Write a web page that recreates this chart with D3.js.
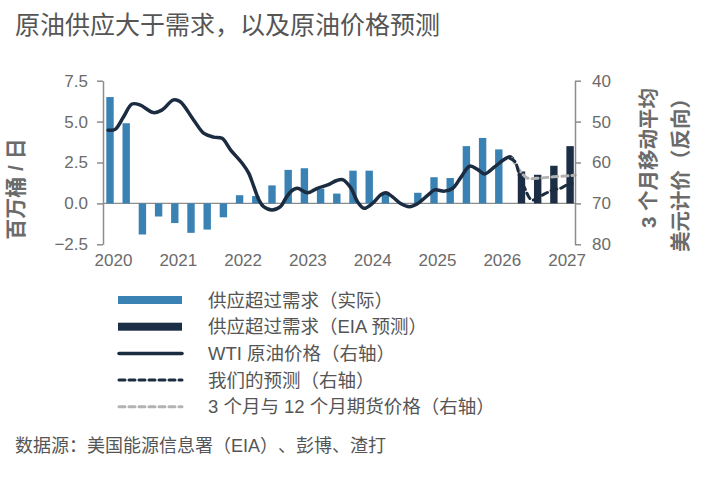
<!DOCTYPE html>
<html>
<head>
<meta charset="utf-8">
<script src="https://cdn.jsdelivr.net/npm/d3@7"></script>
<style>
  body { margin: 0; background: #fff; }
  svg text { font-family: "Liberation Sans", Arial, "Noto Sans CJK SC", sans-serif; text-spacing-trim: space-all; }
</style>
</head>
<body>
<svg id="chart" width="708" height="490"></svg>
<script>
//Quarterly supply minus demand, actual (mb/d)
const actualTimes = d3.range(25).map((i) => 2020 + i * 0.25);
const actualValues = [6.5, 4.9, -1.9, -0.8, -1.2, -1.8, -1.6, -0.85, 0.5, 0.45, 1.1, 2.05, 2.15, 0.9, 0.6, 2.0, 2.0, 0.65, 0, 0.65, 1.6, 1.55, 3.5, 4.0, 3.3];

//EIA forecast bars
const eiaTimes = [2026.35, 2026.6, 2026.85, 2027.1];
const eiaValues = [1.95, 1.75, 2.3, 3.5];

//WTI 3 month moving average (USD, right axis reversed)
const wtiTimes = [2019.97, 2020.08, 2020.21, 2020.34, 2020.46, 2020.67, 2020.8, 2020.98, 2021.08, 2021.29, 2021.45, 2021.6, 2021.73, 2021.86, 2022.04, 2022.14, 2022.22, 2022.3, 2022.37, 2022.5, 2022.63, 2022.71, 2022.79, 2022.89, 2023.05, 2023.2, 2023.36, 2023.5, 2023.59, 2023.72, 2023.82, 2023.92, 2024.05, 2024.18, 2024.26, 2024.36, 2024.49, 2024.62, 2024.75, 2024.91, 2025.01, 2025.16, 2025.29, 2025.42, 2025.55, 2025.68, 2025.78, 2025.94, 2026.07, 2026.17, 2026.21];
const wtiValues = [52.1, 51.9, 48.8, 45.7, 45.9, 47.8, 47.2, 44.7, 45.1, 49.6, 52.9, 53.8, 54.1, 56.9, 60.2, 62.6, 65.9, 69.2, 70.8, 71.6, 70.8, 68.8, 67.1, 66.3, 67.4, 66.3, 65.5, 64.4, 64.2, 66.3, 69.6, 71.2, 70.0, 67.9, 67.4, 68.4, 70.1, 70.8, 70.0, 67.9, 66.7, 67.0, 66.3, 63.5, 60.9, 61.8, 62.8, 61.0, 59.4, 58.6, 59.0];

//Our forecast (right axis)
const ourTimes = [2026.17, 2026.25, 2026.33, 2026.4, 2026.48, 2026.53, 2026.68, 2026.84, 2026.97, 2027.05, 2027.13];
const ourValues = [59.0, 59.8, 63.9, 66.3, 68.8, 69.2, 67.9, 66.7, 66.2, 65.5, 65.2];

//3 and 12 month futures (right axis)
const futTimes = [2026.2, 2026.33, 2026.44, 2026.64, 2026.84, 2027.1, 2027.18];
const futValues = [59.0, 62.1, 63.8, 63.8, 63.5, 63.2, 63.1];

//Axis ticks
const yearTicks = [2020, 2021, 2022, 2023, 2024, 2025, 2026, 2027];
const leftTicks = [-2.5, 0, 2.5, 5, 7.5];
const rightTicks = [40, 50, 60, 70, 80];

//Texts
const title = "原油供应大于需求，以及原油价格预测";
const leftTitle = "百万桶 / 日";
const rightTitle = ["3 个月移动平均", "美元计价（反向）"];
const legendLabels = ["供应超过需求（实际）", "供应超过需求（EIA 预测）", "WTI 原油价格（右轴）", "我们的预测（右轴）", "3 个月与 12 个月期货价格（右轴）"];
const source = "数据源：美国能源信息署（EIA）、彭博、渣打";

//colours
const colActual = "#3a82b3";
const colEia = "#1c2e45";
const colLine = "#1b2b40";
const colFut = "#b3b3b3";
const axisCol = "#8c8c8c";
const textCol = "#6b6b6b";

var svg = d3.select("#chart");

//scales
const x = d3.scaleLinear().domain([2020, 2027]).range([110, 563.6]);
const yL = d3.scaleLinear().domain([-2.5, 7.5]).range([244.3, 80.7]);
const yR = d3.scaleLinear().domain([80, 40]).range([244.3, 80.7]);
const xLeft = 103, xRight = 575;
const barW = 7.4;

//title
svg.append("text")
  .attr("x", 15).attr("y", 34)
  .attr("font-size", 25).attr("fill", "#555")
  .text(title);

//zero line
svg.append("line")
  .attr("x1", xLeft).attr("x2", xRight)
  .attr("y1", yL(0)).attr("y2", yL(0))
  .attr("stroke", axisCol).attr("stroke-width", 1.3);

//bars
function drawBars(times, values, col) {
  svg.append("g").selectAll("rect")
    .data(values)
    .join("rect")
    .attr("x", (d, i) => x(times[i]) - barW / 2)
    .attr("width", barW)
    .attr("y", (d) => yL(Math.max(0, d)))
    .attr("height", (d) => Math.abs(yL(d) - yL(0)))
    .attr("fill", col);
}
drawBars(actualTimes, actualValues, colActual);
drawBars(eiaTimes, eiaValues, colEia);

//lines on the right axis
var line = d3.line()
  .x((d) => x(d[0]))
  .y((d) => yR(d[1]))
  .curve(d3.curveCatmullRom);

function drawLine(times, values, col, width, dash) {
  svg.append("path")
    .datum(times.map((t, i) => [t, values[i]]))
    .attr("d", line)
    .attr("fill", "none")
    .attr("stroke", col)
    .attr("stroke-width", width)
    .attr("stroke-linecap", "round")
    .attr("stroke-dasharray", dash);
}
drawLine(wtiTimes, wtiValues, colLine, 3.5, null);
drawLine(futTimes, futValues, colFut, 3, "6,4");
drawLine(ourTimes, ourValues, colLine, 3, "6,4");

//left axis
var gL = svg.append("g")
  .attr("transform", `translate(${xLeft},0)`)
  .call(d3.axisLeft(yL).tickValues(leftTicks).tickFormat(d3.format(".1f")).tickSize(6).tickSizeOuter(0).tickPadding(9));

//right axis
var gR = svg.append("g")
  .attr("transform", `translate(${xRight},0)`)
  .call(d3.axisRight(yR).tickValues(rightTicks).tickFormat(d3.format("d")).tickSize(6).tickSizeOuter(0).tickPadding(11));

//x axis labels only
var gX = svg.append("g")
  .attr("transform", `translate(0,${yL(-2.5)})`)
  .call(d3.axisBottom(x).tickValues(yearTicks).tickFormat(d3.format("d")).tickSize(0).tickPadding(10));
gX.select(".domain").remove();
gX.selectAll("text").attr("dx", 3);

[gL, gR, gX].forEach((g) => {
  g.selectAll(".domain, line").attr("stroke", axisCol).attr("stroke-width", 1.5);
  g.selectAll("text").attr("font-size", 17).attr("fill", textCol).style("font-family", "Liberation Sans, Arial, sans-serif");
});

//axis titles
svg.append("text")
  .attr("transform", "translate(15,189) rotate(-90)")
  .attr("text-anchor", "middle").attr("dominant-baseline", "central")
  .attr("font-size", 21).attr("font-weight", "bold").attr("fill", textCol)
  .text(leftTitle);

rightTitle.forEach((t, i) => {
  svg.append("text")
    .attr("transform", `translate(${648 + i * 32},88) rotate(-90)`)
    .attr("text-anchor", "end").attr("dominant-baseline", "central")
    .attr("font-size", 20.5).attr("font-weight", "bold").attr("fill", textCol)
    .text(t);
});

//legend
var legend = svg.append("g").attr("transform", "translate(118,300)");
legendLabels.forEach((lab, i) => {
  var row = legend.append("g").attr("transform", `translate(0,${i * 26.7})`);
  if (i < 2) {
    row.append("rect")
      .attr("x", 0).attr("y", -4).attr("width", 64).attr("height", 8)
      .attr("fill", i == 0 ? colActual : colEia);
  } else {
    row.append("line")
      .attr("x1", 1).attr("x2", 64).attr("y1", 0).attr("y2", 0)
      .attr("stroke", i == 4 ? colFut : colLine)
      .attr("stroke-width", i == 2 ? 3.5 : 3)
      .attr("stroke-linecap", "round")
      .attr("stroke-dasharray", i == 2 ? null : "6,4");
  }
  row.append("text")
    .attr("x", 90).attr("y", 0)
    .attr("dominant-baseline", "central")
    .attr("font-size", 18.5).attr("fill", "#555")
    .text(lab);
});

//source
svg.append("text")
  .attr("x", 15).attr("y", 452)
  .attr("font-size", 18).attr("fill", "#555")
  .text(source);
</script>
</body>
</html>
